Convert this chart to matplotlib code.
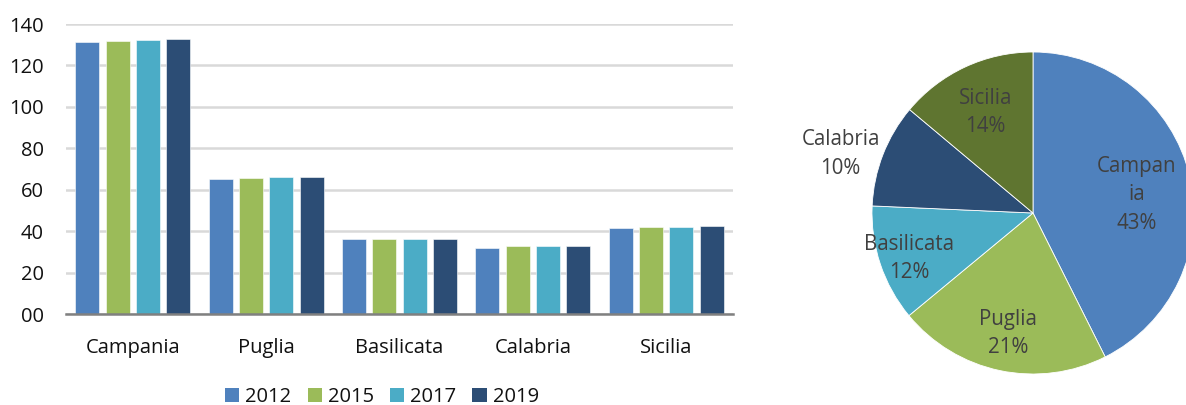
import numpy as np
import matplotlib
matplotlib.use("Agg")
import matplotlib.pyplot as plt
from matplotlib.patches import Patch

plt.rcParams['font.family'] = ['Open Sans', 'DejaVu Sans']

# ---- data ----
categories = ["Campania", "Puglia", "Basilicata", "Calabria", "Sicilia"]
years = ["2012", "2015", "2017", "2019"]
v2012 = [131.1, 65.4, 36.1, 31.9, 41.6]
v2015 = [131.8, 65.7, 36.2, 32.7, 42.0]
v2017 = [132.3, 65.9, 36.2, 32.7, 42.2]
v2019 = [132.6, 66.2, 36.4, 32.9, 42.4]
yticks = [0, 20, 40, 60, 80, 100, 120, 140]
ytick_labels = ["00", "20", "40", "60", "80", "100", "120", "140"]

pie_labels = ["Campan\nia", "Puglia", "Basilicata", "Calabria", "Sicilia"]
pie_shares = [42.6, 21.4, 11.7, 10.4, 13.9]

# ---- style ----
bar_colors = ["#4F81BD", "#9BBB59", "#4BACC6", "#2C4D75"]
pie_colors = ["#4F81BD", "#9BBB59", "#4BACC6", "#2C4D75", "#5F7530"]
label_radius = [0.66, 0.755, 0.81, 1.25, 0.70]
label_shift_x = [0.0, 0.0, 0.0, -0.03, 0.0]
label_shift_y = [-0.04, -0.01, -0.025, -0.087, -0.012]
text_col = "#404040"

W, H = 1186, 405
fig = plt.figure(figsize=(W / 100, H / 100), dpi=100)

# ---- bar chart ----
ax = fig.add_axes([66 / W, 1 - 314 / H, 667 / W, 290 / H])
series = [v2012, v2015, v2017, v2019]
x = np.arange(len(categories))
step = 0.227
bw = 0.18
for i, (vals, c, yr) in enumerate(zip(series, bar_colors, years)):
    ax.bar(x + (i - 1.5) * step, vals, width=bw, color=c, label=yr, zorder=3,
           edgecolor="white", linewidth=0.4)

ax.set_xlim(-0.5, len(categories) - 0.5)
ax.set_ylim(0, 140)
ax.set_yticks(yticks)
ax.set_yticklabels(ytick_labels)
ax.set_xticks(x)
ax.set_xticklabels(categories)
ax.tick_params(axis='both', length=0, labelsize=14.5, colors="#111111")
ax.tick_params(axis='y', pad=16)
ax.tick_params(axis='x', pad=17)
ax.yaxis.grid(True, color="#D9D9D9", linewidth=1.8, zorder=0)
ax.set_axisbelow(True)
for s in ["top", "right", "left"]:
    ax.spines[s].set_visible(False)
ax.spines["bottom"].set_color("#808080")
ax.spines["bottom"].set_linewidth(1.8)
ax.spines["bottom"].set_zorder(4)

handles = [Patch(facecolor=c, label=y) for c, y in zip(bar_colors, years)]
fig.legend(handles=handles, loc="center", bbox_to_anchor=(382 / W, 1 - 397 / H),
           ncol=4, frameon=False, fontsize=14.5, handlelength=0.7, handleheight=0.7,
           handletextpad=0.3, columnspacing=0.8, labelcolor="#111111")

# ---- pie chart ----
r = 161
cx, cy = 1033, 213
pax = fig.add_axes([(cx - r) / W, 1 - (cy + r) / H, 2 * r / W, 2 * r / H])
wedges, _ = pax.pie(pie_shares, colors=pie_colors, startangle=90, counterclock=False,
                    radius=1.0, wedgeprops=dict(linewidth=0.6, edgecolor="white"))
pax.set_xlim(-1, 1)
pax.set_ylim(-1, 1)
pax.set_aspect("equal")
pax.axis("off")
for w, lab, share, rr, sx, sy in zip(wedges, pie_labels, pie_shares, label_radius,
                                     label_shift_x, label_shift_y):
    ang = np.deg2rad((w.theta1 + w.theta2) / 2)
    pax.text(rr * np.cos(ang) + sx, rr * np.sin(ang) + sy, f"{lab}\n{share:.0f}%",
             ha="center", va="center", fontsize=14.8, color=text_col,
             linespacing=1.45, clip_on=False)

fig.savefig("out.png", dpi=100)
